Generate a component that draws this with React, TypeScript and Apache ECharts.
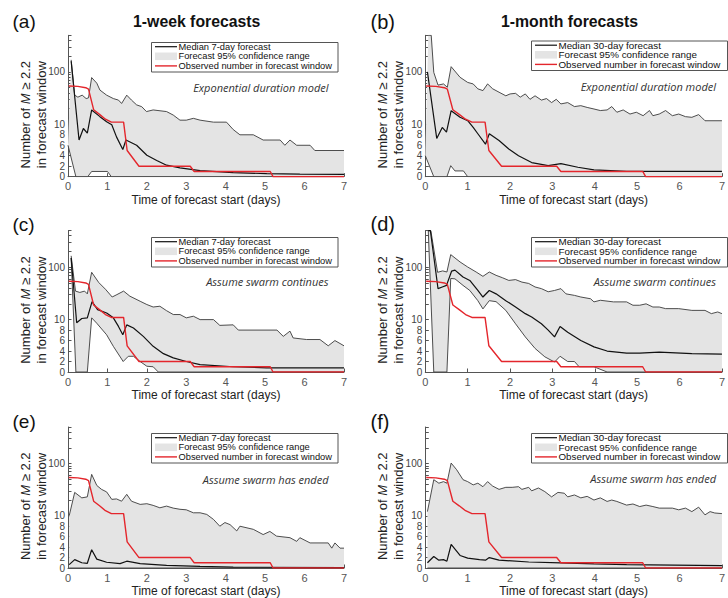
import React, { useEffect, useRef } from 'react';
import * as echarts from 'echarts';

// ---------- data (days, counts) ----------
const X_TICKS = [0, 1, 2, 3, 4, 5, 6, 7];
const Y_LABEL_VALUES = [0, 2, 4, 6, 8, 10, 100];
const Y_TICK_VALUES = [0, 2, 4, 6, 8, 10, 20, 30, 40, 50, 60, 70, 80, 90, 100, 200, 300, 400, 500];
const Y_MAX_VALUE = 500;

const OBSERVED = [[0.02,54],[0.25,53],[0.45,50],[0.52,47],[0.65,19],[0.8,15.5],[0.95,12.5],[1.1,11],[1.41,11],[1.5,5],[1.8,2],[3.1,2],[3.2,1],[5.13,1],[5.2,0],[7,0]];

const A_UPPER = [[0.08,170],[0.17,36],[0.25,33],[0.36,36],[0.46,31],[0.52,32],[0.6,78],[0.73,61],[0.81,45],[0.98,36],[1.15,31],[1.28,29],[1.36,25],[1.49,36],[1.61,29],[1.74,23.5],[1.87,21.7],[1.99,17.5],[2.16,18.8],[2.5,17.5],[2.67,15],[2.84,12],[3.0,12],[3.18,13],[3.35,12],[3.69,11],[4.02,11],[4.19,9],[4.36,8],[4.7,8],[4.95,7],[5.38,7],[5.5,6],[5.63,7],[5.8,6],[6.14,6],[6.26,5],[7,5]];
const A_MEDIAN = [[0.08,160],[0.28,7],[0.39,9.2],[0.49,8.3],[0.6,18.8],[0.81,14],[0.98,11.2],[1.11,9.9],[1.23,7.6],[1.39,5.2],[1.47,7],[1.74,6],[2.0,4.1],[2.25,3.1],[2.5,2.2],[2.84,1.7],[3.35,1.15],[4.19,0.76],[5.04,0.6],[5.88,0.5],[7,0.45]];
const A_LOWER = [[0,6],[0.2,0],[0.5,0],[0.6,1],[1.0,1],[1.1,0],[7,0]];

const B_UPPER = [[0.07,500],[0.14,500],[0.2,98],[0.3,56],[0.43,59],[0.52,51],[0.61,126],[0.82,79],[1.0,63],[1.13,59],[1.24,47.5],[1.36,44],[1.47,59],[1.59,47.6],[1.74,41],[1.9,35],[2.0,38],[2.13,39],[2.24,33],[2.36,38],[2.47,30],[2.59,35],[2.74,29],[2.86,31],[2.98,26],[3.09,30],[3.2,24.5],[3.36,26],[3.52,21.8],[3.67,22.7],[3.82,21],[3.98,19.6],[4.13,18.3],[4.29,18.8],[4.4,21.8],[4.52,17],[4.67,18.8],[4.83,15.7],[4.98,17],[5.14,14.6],[5.29,18.3],[5.37,14.6],[5.52,15.7],[5.67,18.3],[5.83,14.6],[5.98,15.7],[6.14,14],[6.29,13.6],[6.45,15.3],[6.52,13.6],[6.6,11.7],[7,11.7]];
const B_MEDIAN = [[0.05,100],[0.27,7.3],[0.4,9.4],[0.5,8.5],[0.61,18.2],[0.82,13.6],[1.0,11.7],[1.13,9.4],[1.24,8.2],[1.42,6.2],[1.51,8.2],[1.74,6.9],[1.97,5.3],[2.2,4],[2.51,2.7],[2.9,2.1],[3.2,2.5],[3.6,1.8],[3.98,1.3],[4.75,1.0],[7,1.0]];
const B_LOWER = [[0,4],[0.2,0],[0.51,0],[0.6,2.1],[0.7,1.1],[0.9,1.1],[1.0,0],[7,0]];

const C_UPPER = [[0.08,165],[0.19,35],[0.3,33],[0.42,35],[0.49,31],[0.6,80],[0.78,51],[0.95,38],[1.12,27],[1.24,30],[1.41,35],[1.57,28],[1.83,22.4],[2.0,19.4],[2.16,17.4],[2.33,18],[2.5,14.8],[2.67,12.5],[2.84,12.5],[3.0,10.8],[3.18,11.6],[3.35,10],[3.69,10],[3.85,8.9],[4.19,9],[4.32,8],[5.3,8],[5.46,6.8],[5.63,7.8],[5.71,6.5],[6.05,6.2],[6.39,6.2],[6.6,5],[6.77,6],[7,5]];
const C_MEDIAN = [[0.08,150],[0.22,9.4],[0.35,10.5],[0.49,10.8],[0.61,22],[0.75,15.5],[0.98,13.4],[1.15,10.8],[1.28,8.7],[1.39,7.1],[1.49,9],[1.66,8.4],[1.91,6.8],[2.16,4.9],[2.42,3.5],[2.67,2.7],[3.0,2],[3.35,1.4],[4.19,1.0],[5.04,0.8],[7,0.8]];
const C_LOWER = [[0.08,150],[0.2,0],[0.49,0],[0.6,10.8],[0.73,9.3],[0.98,7.1],[1.15,4.9],[1.4,2],[1.53,3],[1.66,3],[1.83,2],[2.0,1.1],[2.16,1],[2.29,0],[7,0]];

const D_UPPER = [[0.07,500],[0.13,500],[0.29,80],[0.41,85],[0.51,81],[0.6,174],[0.82,126],[1.0,101],[1.2,81],[1.36,67],[1.51,81],[1.67,70],[1.82,63],[1.97,56],[2.13,58],[2.28,52],[2.44,49],[2.59,42],[2.74,39],[2.9,34],[3.05,36],[3.2,39],[3.32,31],[3.52,29],[3.67,27],[3.9,25],[3.98,21.8],[4.13,23.4],[4.44,21.8],[4.75,21.8],[4.9,18.8],[5.06,18.8],[5.21,20],[5.37,17.4],[5.52,17.4],[5.67,16.2],[5.98,16.2],[6.29,15],[6.6,15],[6.75,13],[6.9,14],[7,13]];
const D_MEDIAN = [[0.07,500],[0.12,500],[0.3,39],[0.4,42],[0.5,45],[0.62,84],[0.7,88],[0.89,65],[1.05,56],[1.24,36],[1.36,27],[1.51,36],[1.67,31],[1.9,23],[2.13,17.4],[2.36,13],[2.51,11.2],[2.74,9.2],[2.9,8],[3.05,6.7],[3.18,8.7],[3.36,7.6],[3.67,6],[3.98,4.8],[4.29,4.0],[4.75,3.6],[5.06,3.6],[5.52,3.8],[6.29,3.5],[7,3.4]];
const D_LOWER = [[0.07,500],[0.2,0],[0.51,0],[0.6,61],[0.7,60],[0.89,45],[1.05,36],[1.24,23],[1.36,16],[1.51,23],[1.67,22],[1.9,15],[2.13,9.2],[2.36,6.7],[2.59,4.5],[2.82,2.9],[3.05,1.9],[3.18,3],[3.36,2],[3.52,2],[3.63,1],[3.98,1],[4.29,0],[7,0]];

const E_UPPER = [[0.03,10],[0.17,28],[0.35,22],[0.49,23],[0.6,62],[0.73,38],[0.85,32],[0.98,28.6],[1.11,20.6],[1.23,21],[1.36,19],[1.49,25.7],[1.61,19],[1.83,16.5],[2.0,17],[2.16,15.8],[2.33,14.2],[2.5,15.3],[2.67,14],[2.84,13.3],[3.0,13],[3.18,11.4],[3.35,11.4],[3.52,10.6],[3.69,9.3],[3.85,8],[3.98,8.7],[4.11,8.3],[4.28,7.1],[4.36,8],[4.7,7.4],[4.95,6.4],[5.12,7],[5.29,6.1],[5.63,5.8],[5.8,5.1],[5.88,5.8],[6.14,4.8],[6.6,4.8],[6.69,3.8],[6.77,4.8],[6.9,3.8],[7,3.8]];
const E_MEDIAN = [[0.03,0.64],[0.17,1.6],[0.35,1.0],[0.49,0.9],[0.6,3.5],[0.73,1.7],[0.98,1.1],[1.32,0.85],[1.49,1.3],[1.83,0.85],[2.5,0.5],[3.35,0.3],[4.19,0.15],[7,0.1]];
const E_LOWER = [[0.03,0],[7,0]];

const F_UPPER = [[0.05,12],[0.2,49],[0.32,42],[0.43,45],[0.51,42],[0.61,102],[0.74,76],[0.89,49],[1.0,45],[1.13,39],[1.24,42],[1.36,36],[1.47,45],[1.59,37],[1.74,32],[1.9,35],[2.05,35],[2.2,36],[2.28,32],[2.44,35],[2.51,30],[2.67,34],[2.82,29],[2.98,23],[3.13,28],[3.28,27],[3.36,23],[3.52,25],[3.67,22],[3.82,23.5],[3.98,20],[4.13,22],[4.29,18.8],[4.4,20],[4.52,18.8],[4.75,16],[4.9,16.8],[5.06,15],[5.21,16],[5.37,15],[5.52,14],[5.83,14],[5.98,13],[6.14,14],[6.29,12],[6.45,14.6],[6.6,10.4],[6.72,12],[6.83,11.3],[7,11]];
const F_MEDIAN = [[0.05,1.0],[0.2,2.2],[0.32,1.5],[0.43,1.6],[0.51,1.3],[0.61,4.5],[0.82,2.4],[1.0,1.9],[1.28,1.6],[1.42,1.5],[1.51,2.0],[1.74,1.5],[2.44,1.15],[3.2,1.0],[3.98,0.8],[4.75,0.65],[7,0.45]];
const F_LOWER = [[0.05,0],[7,0]];

const PANEL_LETTERS = ['(a)', '(b)', '(c)', '(d)', '(e)', '(f)'];
const COLUMN_TITLES = ['1-week forecasts', '1-month forecasts'];
const NOTES = ['Exponential duration model', 'Exponential duration model', 'Assume swarm continues', 'Assume swarm continues', 'Assume swarm has ended', 'Assume swarm has ended'];
const LEGEND_MEDIAN = ['Median 7-day forecast', 'Median 30-day forecast'];
const LEGEND_RANGE = 'Forecast 95% confidence range';
const LEGEND_OBS = 'Observed number in forecast window';
const X_NAME = 'Time of forecast start (days)';

// ---------- scale: linear 0–10, log above 10 ----------
const tf = (y: number) => (y <= 10 ? y / 10 : 1 + Math.log10(y / 10));
const inv = (t: number) => (t <= 1 ? t * 10 : 10 * Math.pow(10, t - 1));
const TMAX = tf(Y_MAX_VALUE);

// ---------- layout ----------
const FONT = '"Liberation Sans", Arial, Helvetica, sans-serif';
const COLS = [{ left: 68, width: 276 }, { left: 425.3, width: 304.7 }];
const ROWS = [{ top: 35.3, h: 141.4 }, { top: 230.6, h: 141.4 }, { top: 427, h: 141.3 }];
const LEG = [
  { left: 151.5, width: 186.5, tops: [42.5, 237.5, 433.5], fs: 9.3 },
  { left: 531.5, width: 196, tops: [41, 237.5, 433.5], fs: 9.8 },
];
const YTITLE_X = [[25.5, 41.3], [382.7, 398]];
const NOTE_RIGHT = [328.5, 716];
const NOTE_Y = [87.3, 86.7, 281.7, 281.7, 479, 478.3];
const LETTER_POS = [[12.5, 21.7], [370.5, 21.7], [12.5, 224.5], [370.5, 223.5], [12.5, 421.5], [370.5, 421.5]];

const BAND = '#e4e4e4';
const RED = '#e4262c';

const PANELS = [
  { upper: A_UPPER, median: A_MEDIAN, lower: A_LOWER },
  { upper: B_UPPER, median: B_MEDIAN, lower: B_LOWER },
  { upper: C_UPPER, median: C_MEDIAN, lower: C_LOWER },
  { upper: D_UPPER, median: D_MEDIAN, lower: D_LOWER },
  { upper: E_UPPER, median: E_MEDIAN, lower: E_LOWER },
  { upper: F_UPPER, median: F_MEDIAN, lower: F_LOWER },
];

const toT = (arr: number[][]) => arr.map((p) => [p[0], tf(p[1])]);

function txt(x: number, y: number, text: string, o: any = {}) {
  const align = o.align || 'left';
  const va = o.va || 'middle';
  return {
    type: 'text',
    x,
    y,
    rotation: o.rotation || 0,
    silent: true,
    z: 100,
    style: {
      text,
      fontSize: o.fontSize || 12,
      fontFamily: o.fontFamily || FONT,
      fontWeight: o.fontWeight || 'normal',
      fontStyle: o.fontStyle || 'normal',
      fill: o.fill || '#222',
      align,
      verticalAlign: va,
      textAlign: align,
      textVerticalAlign: va,
      rich: o.rich,
    },
  };
}

function buildOption() {
  const grid: any[] = [];
  const xAxis: any[] = [];
  const yAxis: any[] = [];
  const series: any[] = [];
  const graphic: any[] = [];

  PANELS.forEach((p, i) => {
    const col = i % 2;
    const row = Math.floor(i / 2);
    const c = COLS[col];
    const r = ROWS[row];
    grid.push({ left: c.left, top: r.top, width: c.width, height: r.h, containLabel: false });
    xAxis.push({
      gridIndex: i,
      type: 'value',
      min: X_TICKS[0],
      max: X_TICKS[X_TICKS.length - 1],
      interval: 1,
      name: X_NAME,
      nameLocation: 'middle',
      nameGap: 17,
      nameTextStyle: { fontSize: 12, color: '#222', fontFamily: FONT },
      axisLine: { show: true, onZero: false, lineStyle: { color: '#555', width: 1 } },
      axisTick: { show: true, inside: true, length: 3.5, lineStyle: { color: '#555' } },
      axisLabel: { fontSize: 11, color: '#555', margin: 4, fontFamily: FONT, showMinLabel: true, showMaxLabel: true, formatter: (v: number) => String(v) },
      splitLine: { show: false },
    });
    yAxis.push({
      gridIndex: i,
      type: 'value',
      min: 0,
      max: TMAX,
      axisLine: { show: true, onZero: false, lineStyle: { color: '#555', width: 1 } },
      axisTick: {
        show: true,
        inside: true,
        length: 3.5,
        customValues: Y_TICK_VALUES.map(tf),
        lineStyle: { color: '#555' },
      },
      axisLabel: {
        fontSize: 10,
        lineHeight: 10,
        color: '#444',
        margin: 3,
        fontFamily: FONT,
        showMinLabel: true,
        hideOverlap: false,
        customValues: Y_LABEL_VALUES.map(tf),
        formatter: (v: number) => String(Math.round(inv(v))),
      },
      splitLine: { show: false },
    });

    const upperT = toT(p.upper);
    const lowerT = toT(p.lower);
    series.push({
      type: 'custom',
      xAxisIndex: i,
      yAxisIndex: i,
      silent: true,
      clip: true,
      z: 1,
      data: [[0, 0]],
      renderItem: (_params: any, api: any) => {
        const pts = upperT.map((q) => api.coord(q)).concat(lowerT.slice().reverse().map((q) => api.coord(q)));
        return { type: 'polygon', shape: { points: pts }, style: { fill: BAND, stroke: 'none' } };
      },
    });
    const lineBase = { type: 'line', xAxisIndex: i, yAxisIndex: i, showSymbol: false, symbol: 'none', silent: true, clip: true };
    series.push({ ...lineBase, name: 'lower', z: 3, data: lowerT, lineStyle: { color: '#3a3a3a', width: 0.9 } });
    series.push({ ...lineBase, name: 'upper', z: 3, data: upperT, lineStyle: { color: '#3a3a3a', width: 0.9 } });
    series.push({ ...lineBase, name: LEGEND_MEDIAN[col], z: 4, data: toT(p.median), lineStyle: { color: '#111', width: 1.2 } });
    series.push({ ...lineBase, name: LEGEND_OBS, z: 5, data: toT(OBSERVED), lineStyle: { color: RED, width: 1.4 } });

    // legend box
    const L = LEG[col];
    const top = L.tops[row];
    graphic.push({
      type: 'rect',
      silent: true,
      z: 90,
      shape: { x: L.left, y: top, width: L.width, height: 29.5 },
      style: { fill: '#fff', stroke: '#555', lineWidth: 1 },
    });
    const sx1 = L.left + 3.5;
    const sx2 = L.left + 25.5;
    const tx = L.left + 27;
    const ry = [top + 4.2, top + 13.8, top + 23.4];
    graphic.push({ type: 'line', silent: true, z: 95, shape: { x1: sx1, y1: ry[0], x2: sx2, y2: ry[0] }, style: { stroke: '#111', lineWidth: 1.2 } });
    graphic.push({ type: 'rect', silent: true, z: 95, shape: { x: sx1, y: ry[1] - 3.8, width: sx2 - sx1, height: 7.6 }, style: { fill: BAND } });
    graphic.push({ type: 'line', silent: true, z: 95, shape: { x1: sx1, y1: ry[2], x2: sx2, y2: ry[2] }, style: { stroke: RED, lineWidth: 1.4 } });
    graphic.push(txt(tx, ry[0], LEGEND_MEDIAN[col], { fontSize: L.fs, fill: '#111' }));
    graphic.push(txt(tx, ry[1], LEGEND_RANGE, { fontSize: L.fs, fill: '#111' }));
    graphic.push(txt(tx, ry[2], LEGEND_OBS, { fontSize: L.fs, fill: '#111' }));

    // annotation
    graphic.push(
      txt(NOTE_RIGHT[col], NOTE_Y[i], NOTES[i], {
        align: 'right',
        fontSize: 11,
        fontStyle: 'italic',
        fontFamily: '"Open Sans", "Noto Sans", sans-serif',
        fill: '#333',
      })
    );

    // panel letter
    graphic.push(txt(LETTER_POS[i][0], LETTER_POS[i][1], PANEL_LETTERS[i], { fontSize: col === 0 ? 19 : 20, fill: '#111' }));

    // y axis title (two rotated lines)
    const yc = r.top + r.h - 62;
    graphic.push(
      txt(YTITLE_X[col][0], yc, 'Number of {i|M} ≥ 2.2', {
        align: 'center',
        rotation: Math.PI / 2,
        fontSize: 13,
        fill: '#222',
        rich: { i: { fontStyle: 'italic', fontSize: 13, fontFamily: FONT, fill: '#222' } },
      })
    );
    graphic.push(txt(YTITLE_X[col][1], yc, 'in forecast window', { align: 'center', rotation: Math.PI / 2, fontSize: 13, fill: '#222' }));
  });

  graphic.push(txt(196.7, 21.3, COLUMN_TITLES[0], { align: 'center', fontSize: 15.8, fontWeight: 'bold', fill: '#111' }));
  graphic.push(txt(569.5, 21.3, COLUMN_TITLES[1], { align: 'center', fontSize: 15.8, fontWeight: 'bold', fill: '#111' }));

  return {
    animation: false,
    backgroundColor: '#fff',
    textStyle: { fontFamily: FONT },
    grid,
    xAxis,
    yAxis,
    series,
    graphic: { elements: graphic },
  };
}

export default function App() {
  const ref = useRef<HTMLDivElement>(null);
  useEffect(() => {
    if (!ref.current) return;
    const chart = echarts.init(ref.current, undefined, { renderer: 'svg' });
    chart.setOption(buildOption() as any);
    return () => chart.dispose();
  }, []);
  return <div ref={ref} style={{ position: 'fixed', left: 0, top: 0, width: 728, height: 598, background: '#fff' }} />;
}
